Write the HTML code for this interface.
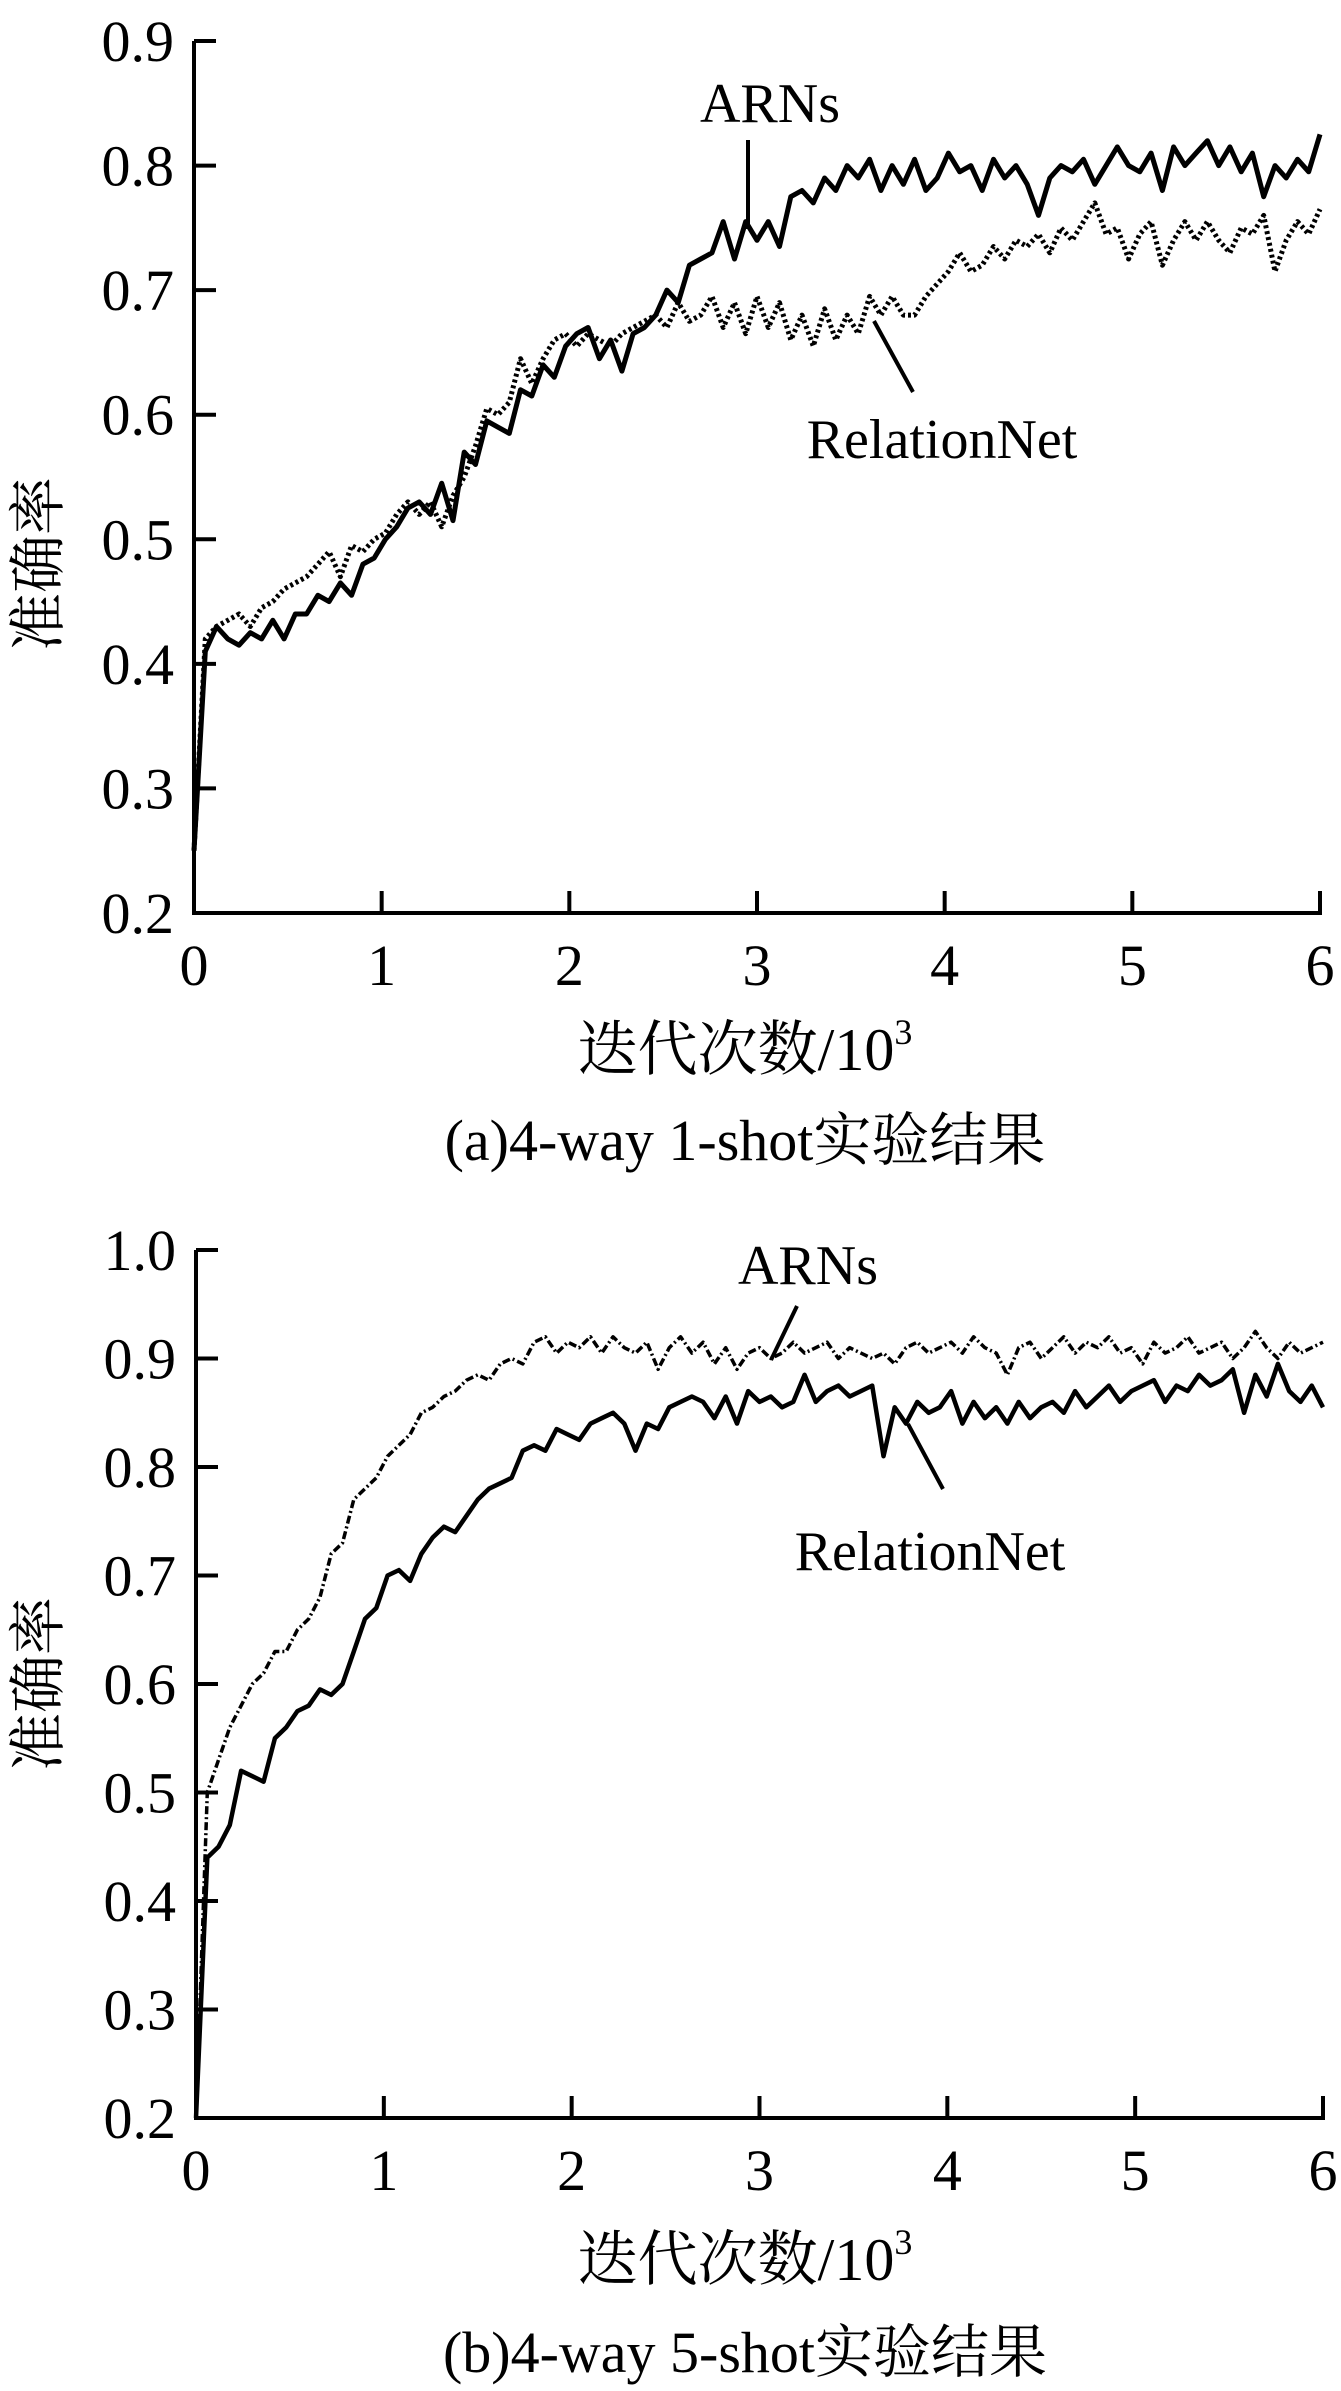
<!DOCTYPE html>
<html><head><meta charset="utf-8">
<style>
html,body{margin:0;padding:0;background:#fff;}
svg{display:block;}
text{font-family:"Liberation Serif","Noto Serif CJK SC",serif;fill:#000;}
</style></head>
<body>
<svg id="chart" width="1341" height="2391" viewBox="0 0 1341 2391" xmlns="http://www.w3.org/2000/svg">
<g id="pa"></g>
<g id="pb"></g>
</svg>
<script>
const xTicks = [0,1,2,3,4,5,6];
const yTicksA = ["0.2","0.3","0.4","0.5","0.6","0.7","0.8","0.9"];
const yTicksB = ["0.2","0.3","0.4","0.5","0.6","0.7","0.8","0.9","1.0"];
const xStep = 0.06;
const arnsA = [0.25,0.41,0.43,0.42,0.415,0.425,0.42,0.435,0.42,0.44,0.44,0.455,0.45,0.465,0.455,0.48,0.485,0.5,0.51,0.525,0.53,0.52,0.545,0.515,0.57,0.56,0.595,0.59,0.585,0.62,0.615,0.64,0.63,0.655,0.665,0.67,0.645,0.66,0.635,0.665,0.67,0.68,0.7,0.69,0.72,0.725,0.73,0.755,0.725,0.755,0.74,0.755,0.735,0.775,0.78,0.77,0.79,0.78,0.8,0.79,0.805,0.78,0.8,0.785,0.805,0.78,0.79,0.81,0.795,0.8,0.78,0.805,0.79,0.8,0.785,0.76,0.79,0.8,0.795,0.805,0.785,0.8,0.815,0.8,0.795,0.81,0.78,0.815,0.8,0.81,0.82,0.8,0.815,0.795,0.81,0.775,0.8,0.79,0.805,0.795,0.825];
const relA = [0.25,0.42,0.43,0.435,0.44,0.43,0.445,0.45,0.46,0.465,0.47,0.48,0.49,0.47,0.495,0.49,0.5,0.505,0.52,0.53,0.52,0.53,0.51,0.535,0.55,0.575,0.605,0.6,0.61,0.645,0.625,0.645,0.66,0.665,0.655,0.665,0.66,0.655,0.665,0.67,0.675,0.68,0.67,0.69,0.675,0.68,0.695,0.67,0.69,0.665,0.695,0.67,0.69,0.66,0.68,0.655,0.685,0.66,0.68,0.665,0.695,0.68,0.695,0.68,0.68,0.695,0.705,0.715,0.73,0.715,0.72,0.735,0.725,0.74,0.735,0.745,0.73,0.75,0.74,0.755,0.77,0.745,0.75,0.725,0.745,0.755,0.72,0.74,0.755,0.74,0.755,0.74,0.73,0.75,0.745,0.76,0.715,0.74,0.755,0.745,0.765];
const arnsB = [0.2,0.5,0.53,0.56,0.58,0.6,0.61,0.63,0.63,0.65,0.66,0.68,0.72,0.73,0.77,0.78,0.79,0.81,0.82,0.83,0.85,0.855,0.865,0.87,0.88,0.885,0.88,0.895,0.9,0.895,0.915,0.92,0.905,0.915,0.91,0.92,0.905,0.92,0.91,0.905,0.915,0.89,0.91,0.92,0.905,0.915,0.895,0.91,0.89,0.905,0.91,0.9,0.905,0.915,0.905,0.91,0.915,0.9,0.91,0.905,0.9,0.905,0.895,0.91,0.915,0.905,0.91,0.915,0.905,0.92,0.91,0.905,0.885,0.91,0.915,0.9,0.91,0.92,0.905,0.915,0.91,0.92,0.905,0.91,0.895,0.915,0.905,0.91,0.92,0.905,0.91,0.915,0.9,0.91,0.925,0.91,0.9,0.915,0.905,0.91,0.915];
const relB = [0.2,0.44,0.45,0.47,0.52,0.515,0.51,0.55,0.56,0.575,0.58,0.595,0.59,0.6,0.63,0.66,0.67,0.7,0.705,0.695,0.72,0.735,0.745,0.74,0.755,0.77,0.78,0.785,0.79,0.815,0.82,0.815,0.835,0.83,0.825,0.84,0.845,0.85,0.84,0.815,0.84,0.835,0.855,0.86,0.865,0.86,0.845,0.865,0.84,0.87,0.86,0.865,0.855,0.86,0.885,0.86,0.87,0.875,0.865,0.87,0.875,0.81,0.855,0.84,0.86,0.85,0.855,0.87,0.84,0.86,0.845,0.855,0.84,0.86,0.845,0.855,0.86,0.85,0.87,0.855,0.865,0.875,0.86,0.87,0.875,0.88,0.86,0.875,0.87,0.885,0.875,0.88,0.89,0.85,0.885,0.865,0.895,0.87,0.86,0.875,0.855];

const NS="http://www.w3.org/2000/svg";
function mk(parent,tag,attrs,txt){const e=document.createElementNS(NS,tag);for(const k in attrs)e.setAttribute(k,attrs[k]);if(txt!==undefined)e.textContent=txt;parent.appendChild(e);return e;}

function panel(g,cfg){
  const sx=v=>cfg.x0+(v-0)/6*(cfg.x1-cfg.x0);
  const sy=v=>cfg.yb-(v-0.2)/(cfg.ymax-0.2)*(cfg.yb-cfg.yt);
  const ax=mk(g,'path',{d:`M${cfg.x0},${cfg.yt} V${cfg.yb} H${cfg.x1+2}`,stroke:'#000','stroke-width':4,fill:'none'});
  
  
  cfg.yTicks.forEach(t=>{
    const y=sy(parseFloat(t));
    const l=mk(g,'line',{x1:cfg.x0,x2:cfg.x0+22,y1:y,y2:y,stroke:'#000','stroke-width':4});
    
    
    const tx=mk(g,'text',{x:cfg.x0-20,y:y+20,'text-anchor':'end','font-size':58},t);
    
    
  });
  xTicks.forEach(t=>{
    const x=sx(t);
    const l=mk(g,'line',{x1:x,x2:x,y1:cfg.yb,y2:cfg.yb-22,stroke:'#000','stroke-width':4});
    
    
    const tx=mk(g,'text',{x:x,y:cfg.yb+72,'text-anchor':'middle','font-size':58},String(t));
    
    
  });
  cfg.series.forEach(s=>{
    const d=s.vals.map((v,i)=>(i?'L':'M')+sx(i*xStep).toFixed(1)+','+sy(v).toFixed(1)).join(' ');
    const p=mk(g,'path',{d:d,stroke:'#000','stroke-width':s.w,fill:'none','stroke-dasharray':s.dash,'stroke-linejoin':'round'});
    
    
  });
  const yl=mk(g,'text',{x:0,y:0,'text-anchor':'middle','font-size':58,transform:`translate(${cfg.ylx},${cfg.yly}) rotate(-90)`},'准确率');
  
  
  const xl=mk(g,'text',{x:cfg.xlx,y:cfg.xly,'text-anchor':'middle','font-size':60});
  
  
  mk(xl,'tspan',{},'迭代次数/10');
  mk(xl,'tspan',{'font-size':36,dy:-26},'3');
  const cap=mk(g,'text',{x:cfg.xlx,y:cfg.capy,'text-anchor':'middle','font-size':58},cfg.caption);
  
  
  cfg.ann.forEach(a=>{
    const t=mk(g,'text',{x:a.tx,y:a.ty,'text-anchor':'middle','font-size':56},a.label);
    
    
    const l=mk(g,'line',{x1:a.l[0],y1:a.l[1],x2:a.l[2],y2:a.l[3],stroke:'#000','stroke-width':4});
    
    
  });
}
panel(document.getElementById('pa'),{x0:194,x1:1320,yt:41,yb:913,ymax:0.9,yTicks:yTicksA,ylx:58,yly:564,xlx:745,xly:1070,capy:1160,caption:'(a)4-way 1-shot实验结果',
 series:[{name:'relationnet-line-a',vals:relA,w:5,dash:'3,3'},{name:'arns-line-a',vals:arnsA,w:5,dash:'none'}],
 ann:[{name:'arns-a',label:'ARNs',tx:770,ty:122,l:[748,140,748,229]},{name:'relationnet-a',label:'RelationNet',tx:942,ty:458,l:[874,321,913,392]}]});
panel(document.getElementById('pb'),{x0:196,x1:1323,yt:1250,yb:2118,ymax:1.0,yTicks:yTicksB,ylx:58,yly:1684,xlx:745,xly:2280,capy:2372,caption:'(b)4-way 5-shot实验结果',
 series:[{name:'arns-line-b',vals:arnsB,w:3.5,dash:'8,3,2,3'},{name:'relationnet-line-b',vals:relB,w:4.5,dash:'none'}],
 ann:[{name:'arns-b',label:'ARNs',tx:808,ty:1284,l:[797,1306,771,1360]},{name:'relationnet-b',label:'RelationNet',tx:930,ty:1570,l:[908,1424,943,1489]}]});
</script>
</body></html>
